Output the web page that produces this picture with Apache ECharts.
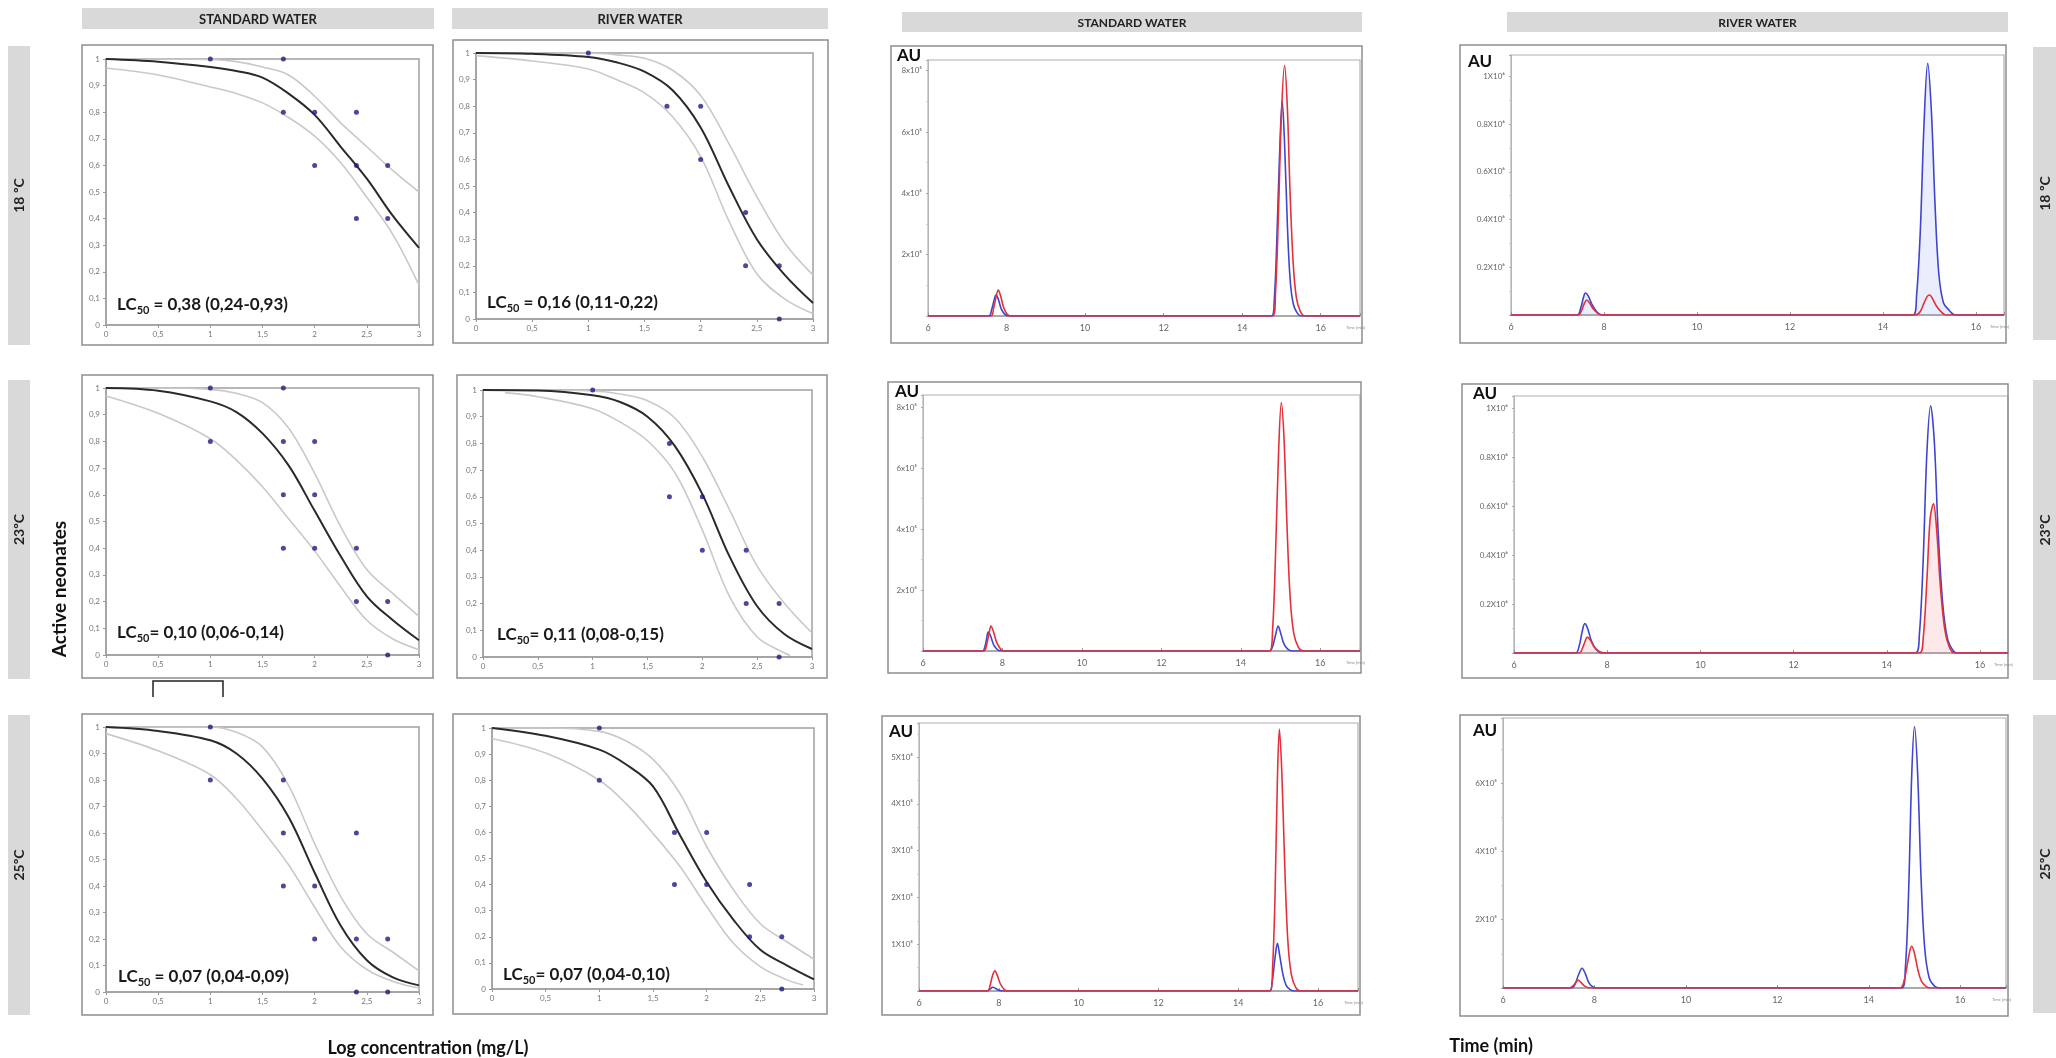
<!DOCTYPE html>
<html>
<head>
<meta charset="utf-8">
<script src="https://cdn.jsdelivr.net/npm/echarts@6/dist/echarts.min.js"></script>
<style>
html, body { margin: 0; padding: 0; background: #ffffff; }
#chart { width: 2056px; height: 1058px; }
</style>
</head>
<body>
<div id="chart"></div>
<script>
// ---------- Toxicity: fraction of active neonates vs log concentration ----------
const rowLabels = ['18 ºC', '23ºC', '25ºC'];
const colHeaders = ['STANDARD WATER', 'RIVER WATER', 'STANDARD WATER', 'RIVER WATER'];

// observed replicates [log concentration, active fraction]
const ptsStd18 = [[1,1],[1.7,1],[1.7,0.8],[2,0.8],[2,0.6],[2.4,0.8],[2.4,0.6],[2.4,0.4],[2.7,0.6],[2.7,0.4]];
const ptsRiv18 = [[1,1],[1.7,0.8],[2,0.8],[2,0.6],[2.4,0.4],[2.4,0.2],[2.7,0.2],[2.7,0]];
const ptsStd23 = [[1,1],[1,0.8],[1.7,1],[1.7,0.8],[1.7,0.6],[1.7,0.4],[2,0.8],[2,0.6],[2,0.4],[2.4,0.4],[2.4,0.2],[2.7,0.2],[2.7,0]];
const ptsRiv23 = [[1,1],[1.7,0.8],[1.7,0.6],[2,0.6],[2,0.4],[2.4,0.4],[2.4,0.2],[2.7,0.2],[2.7,0]];
const ptsStd25 = [[1,1],[1,0.8],[1.7,0.8],[1.7,0.6],[1.7,0.4],[2,0.4],[2,0.2],[2.4,0.6],[2.4,0.2],[2.4,0],[2.7,0.2],[2.7,0]];
const ptsRiv25 = [[1,1],[1,0.8],[1.7,0.6],[1.7,0.4],[2,0.6],[2,0.4],[2.4,0.4],[2.4,0.2],[2.7,0.2],[2.7,0]];

// fitted dose-response curves and 95% confidence bands
const fitStd18 = [[0,1],[0.5,0.99],[1,0.97],[1.25,0.955],[1.5,0.93],[1.75,0.87],[2,0.79],[2.25,0.67],[2.5,0.55],[2.75,0.41],[3,0.29]];
const upStd18  = [[0,1],[0.5,1],[1,0.998],[1.25,0.99],[1.5,0.97],[1.75,0.94],[2,0.86],[2.25,0.76],[2.5,0.67],[2.75,0.58],[3,0.5]];
const lowStd18 = [[0,0.966],[0.5,0.94],[1,0.895],[1.25,0.87],[1.5,0.835],[1.75,0.78],[2,0.71],[2.25,0.61],[2.5,0.48],[2.75,0.34],[3,0.15]];

const fitRiv18 = [[0,1],[0.5,0.997],[1,0.985],[1.25,0.965],[1.5,0.93],[1.75,0.86],[2,0.72],[2.25,0.5],[2.5,0.3],[2.75,0.165],[3,0.06]];
const upRiv18  = [[0,1],[0.5,1],[1,1],[1.25,0.993],[1.5,0.98],[1.75,0.935],[2,0.84],[2.25,0.66],[2.5,0.46],[2.75,0.285],[3,0.165]];
const lowRiv18 = [[0,0.99],[0.5,0.97],[1,0.94],[1.25,0.9],[1.5,0.85],[1.75,0.76],[2,0.61],[2.25,0.37],[2.5,0.17],[2.75,0.075],[3,0.02]];

const fitStd23 = [[0,1],[0.5,0.99],[1,0.95],[1.25,0.91],[1.5,0.83],[1.75,0.71],[2,0.54],[2.25,0.37],[2.5,0.22],[2.75,0.13],[3,0.055]];
const upStd23  = [[0,1],[0.5,1],[1,0.995],[1.25,0.98],[1.5,0.945],[1.75,0.85],[2,0.68],[2.25,0.48],[2.5,0.32],[2.75,0.23],[3,0.145]];
const lowStd23 = [[0,0.97],[0.5,0.905],[1,0.81],[1.25,0.73],[1.5,0.63],[1.75,0.51],[2,0.39],[2.25,0.255],[2.5,0.13],[2.75,0.06],[3,0.02]];

const fitRiv23 = [[0,1],[0.5,0.998],[1,0.98],[1.25,0.955],[1.5,0.9],[1.75,0.79],[2,0.61],[2.25,0.375],[2.5,0.19],[2.75,0.085],[3,0.03]];
const upRiv23  = [[0,1],[0.5,1],[1,0.996],[1.25,0.985],[1.5,0.96],[1.75,0.895],[2,0.75],[2.25,0.55],[2.5,0.34],[2.75,0.2],[3,0.09]];
const lowRiv23 = [[0.2,0.99],[0.5,0.975],[1,0.93],[1.25,0.88],[1.5,0.81],[1.75,0.69],[2,0.475],[2.25,0.225],[2.5,0.075],[2.75,0.015],[2.8,0.006]];

const fitStd25 = [[0,1],[0.5,0.985],[1,0.95],[1.25,0.9],[1.5,0.805],[1.75,0.66],[2,0.45],[2.25,0.25],[2.5,0.12],[2.75,0.055],[3,0.025]];
const upStd25  = [[0,1],[0.5,1],[1,1],[1.25,0.98],[1.5,0.925],[1.75,0.78],[2,0.56],[2.25,0.36],[2.5,0.22],[2.75,0.15],[3,0.08]];
const lowStd25 = [[0,0.975],[0.5,0.91],[1,0.82],[1.25,0.73],[1.5,0.61],[1.75,0.48],[2,0.32],[2.25,0.17],[2.5,0.085],[2.75,0.04],[3,0.015]];

const fitRiv25 = [[0,1],[0.5,0.97],[1,0.917],[1.25,0.86],[1.5,0.776],[1.75,0.59],[2,0.41],[2.25,0.265],[2.5,0.15],[2.75,0.09],[3,0.037]];
const upRiv25  = [[0,1],[0.5,1],[1,0.987],[1.25,0.95],[1.5,0.88],[1.75,0.75],[2,0.546],[2.25,0.38],[2.5,0.25],[2.75,0.18],[3,0.114]];
const lowRiv25 = [[0,0.96],[0.5,0.904],[1,0.8],[1.25,0.71],[1.5,0.596],[1.75,0.47],[2,0.316],[2.25,0.175],[2.5,0.086],[2.75,0.035],[2.9,0.015]];

const lc50Text = [
  ' = 0,38 (0,24-0,93)', ' = 0,16 (0,11-0,22)',
  '= 0,10 (0,06-0,14)', '= 0,11 (0,08-0,15)',
  ' = 0,07 (0,04-0,09)', '= 0,07 (0,04-0,10)'
];

// ---------- Chromatograms: absorbance vs retention time ----------
// [time (min), AU in units of the axis scale]
const chrStd18Blue = [[6,0],[7.55,0],[7.62,0.2],[7.68,0.5],[7.73,0.68],[7.79,0.55],[7.86,0.25],[7.95,0.06],[8.05,0],[14.75,0],[14.82,0.6],[14.88,2.4],[14.95,5.2],[15.02,7.0],[15.08,5.6],[15.15,3.0],[15.22,1.2],[15.3,0.4],[15.4,0.1],[15.5,0],[17,0]];
const chrStd18Red  = [[6,0],[7.6,0],[7.67,0.25],[7.73,0.6],[7.79,0.85],[7.85,0.65],[7.92,0.3],[8.0,0.08],[8.1,0],[14.78,0],[14.85,0.8],[14.92,3.2],[15.0,6.6],[15.08,8.18],[15.15,6.8],[15.22,4.0],[15.3,1.7],[15.38,0.6],[15.48,0.15],[15.6,0],[17,0]];

const chrRiv18Blue = [[6,0],[7.42,0],[7.5,0.03],[7.56,0.075],[7.6,0.092],[7.66,0.08],[7.74,0.045],[7.84,0.015],[7.95,0],[14.65,0],[14.72,0.08],[14.8,0.35],[14.88,0.8],[14.96,1.055],[15.04,0.85],[15.12,0.45],[15.2,0.17],[15.3,0.05],[15.42,0.02],[15.55,0],[16.6,0]];
const chrRiv18Red  = [[6,0],[7.45,0],[7.52,0.02],[7.58,0.05],[7.63,0.063],[7.69,0.05],[7.77,0.025],[7.88,0.005],[7.98,0],[14.7,0],[14.8,0.015],[14.88,0.05],[14.95,0.078],[15.0,0.084],[15.06,0.07],[15.14,0.04],[15.24,0.015],[15.35,0],[16.6,0]];

const chrStd23Blue = [[6,0],[7.5,0],[7.56,0.15],[7.6,0.4],[7.64,0.62],[7.7,0.5],[7.78,0.2],[7.88,0.04],[7.98,0],[14.72,0],[14.8,0.15],[14.87,0.5],[14.94,0.82],[15.0,0.6],[15.08,0.25],[15.18,0.06],[15.3,0],[17,0]];
const chrStd23Red  = [[6,0],[7.53,0],[7.6,0.2],[7.66,0.55],[7.71,0.82],[7.77,0.65],[7.85,0.3],[7.95,0.07],[8.05,0],[14.72,0],[14.8,0.7],[14.87,3.0],[14.95,6.5],[15.02,8.15],[15.09,6.9],[15.16,4.2],[15.24,1.8],[15.33,0.6],[15.45,0.12],[15.58,0],[17,0]];

const chrRiv23Blue = [[6,0],[7.32,0],[7.4,0.03],[7.46,0.085],[7.52,0.12],[7.58,0.1],[7.66,0.05],[7.76,0.015],[7.88,0],[14.62,0],[14.7,0.08],[14.78,0.38],[14.86,0.82],[14.94,1.01],[15.02,0.86],[15.1,0.5],[15.2,0.2],[15.3,0.06],[15.42,0.01],[15.5,0],[16.6,0]];
const chrRiv23Red  = [[6,0],[7.4,0],[7.47,0.02],[7.52,0.045],[7.57,0.065],[7.63,0.055],[7.72,0.025],[7.84,0.005],[7.95,0],[14.7,0],[14.78,0.06],[14.86,0.3],[14.93,0.55],[15.0,0.61],[15.07,0.5],[15.15,0.27],[15.24,0.1],[15.34,0.025],[15.45,0],[16.6,0]];

const chrStd25Blue = [[6,0],[7.7,0],[7.78,0.04],[7.85,0.08],[7.93,0.05],[8.02,0.01],[8.1,0],[14.78,0],[14.85,0.2],[14.92,0.7],[14.98,1.02],[15.04,0.75],[15.12,0.35],[15.2,0.12],[15.3,0.03],[15.4,0],[17,0]];
const chrStd25Red  = [[6,0],[7.72,0],[7.78,0.12],[7.84,0.32],[7.9,0.43],[7.96,0.34],[8.04,0.15],[8.14,0.03],[8.22,0],[14.8,0],[14.86,0.5],[14.92,2.0],[14.98,4.5],[15.03,5.6],[15.09,4.7],[15.16,2.8],[15.24,1.1],[15.33,0.35],[15.45,0.06],[15.58,0],[17,0]];

const chrRiv25Blue = [[6,0],[7.5,0],[7.58,0.12],[7.65,0.38],[7.73,0.58],[7.8,0.42],[7.88,0.15],[7.97,0.03],[8.05,0],[14.72,0],[14.8,0.6],[14.87,2.8],[14.94,6.3],[15.0,7.65],[15.07,6.2],[15.14,3.3],[15.22,1.2],[15.32,0.3],[15.45,0.04],[15.55,0],[17,0]];
const chrRiv25Red  = [[6,0],[7.45,0],[7.53,0.06],[7.6,0.18],[7.64,0.23],[7.7,0.17],[7.78,0.06],[7.86,0.01],[7.95,0],[14.68,0],[14.76,0.15],[14.83,0.6],[14.9,1.1],[14.94,1.22],[15.0,1.0],[15.07,0.55],[15.15,0.2],[15.25,0.05],[15.35,0],[17,0]];

// y tick values and their labels for each chromatogram
const yTickVals = [
  [2,4,6,8], [0.2,0.4,0.6,0.8,1], [2,4,6,8], [0.2,0.4,0.6,0.8,1], [1,2,3,4,5], [2,4,6]
];
const yTickText = [
  ['2x10⁵','4x10⁵','6x10⁵','8x10⁵'],
  ['0.2X10⁶','0.4X10⁶','0.6X10⁶','0.8X10⁶','1X10⁶'],
  ['2x10⁵','4x10⁵','6x10⁵','8x10⁵'],
  ['0.2X10⁶','0.4X10⁶','0.6X10⁶','0.8X10⁶','1X10⁶'],
  ['1X10⁵','2X10⁵','3X10⁵','4X10⁵','5X10⁵'],
  ['2X10⁵','4X10⁵','6X10⁵']
];

// ---------- layout (pixels) ----------
const doseLayout = [
  { box: [82, 45, 351, 300],  grid: [106, 59, 313, 266],  text: [117, 305] },
  { box: [453, 40, 375, 303], grid: [476, 53, 337, 266],  text: [487, 303] },
  { box: [82, 375, 351, 303], grid: [106, 388, 313, 267], text: [117, 633] },
  { box: [457, 375, 370, 303],grid: [483, 390, 329, 267], text: [497, 635] },
  { box: [82, 714, 351, 301], grid: [106, 727, 313, 265], text: [118, 977] },
  { box: [453, 714, 374, 300],grid: [492, 728, 322, 261], text: [503, 975] }
];
const chromLayout = [
  { box: [891, 46, 471, 297],   grid: [928, 60, 432, 256],   au: [897, 56],   xMax: 17,   yMax: 8.35, yStep: 2 },
  { box: [1460, 45, 546, 298],  grid: [1511, 55, 493, 260],  au: [1468, 62],  xMax: 16.6, yMax: 1.09, yStep: 0.2 },
  { box: [888, 382, 473, 291],  grid: [923, 395, 437, 256],  au: [895, 392],  xMax: 17,   yMax: 8.4,  yStep: 2 },
  { box: [1462, 384, 546, 294], grid: [1514, 396, 494, 257], au: [1473, 394], xMax: 16.6, yMax: 1.05, yStep: 0.2 },
  { box: [882, 716, 478, 299],  grid: [919, 723, 439, 268],  au: [889, 732],  xMax: 17,   yMax: 5.73, yStep: 1 },
  { box: [1460, 715, 548, 301], grid: [1503, 718, 503, 270], au: [1473, 731], xMax: 17,   yMax: 7.9,  yStep: 2 }
];

const doseSets = [
  [ptsStd18, fitStd18, upStd18, lowStd18],
  [ptsRiv18, fitRiv18, upRiv18, lowRiv18],
  [ptsStd23, fitStd23, upStd23, lowStd23],
  [ptsRiv23, fitRiv23, upRiv23, lowRiv23],
  [ptsStd25, fitStd25, upStd25, lowStd25],
  [ptsRiv25, fitRiv25, upRiv25, lowRiv25]
];
const chromSets = [
  [chrStd18Blue, chrStd18Red],
  [chrRiv18Blue, chrRiv18Red],
  [chrStd23Blue, chrStd23Red],
  [chrRiv23Blue, chrRiv23Red],
  [chrStd25Blue, chrStd25Red],
  [chrRiv25Blue, chrRiv25Red]
];

const FONT = 'Lato, "Open Sans", sans-serif';
const BLUE = '#3f45cf';
const RED = '#e4303a';

const grids = [], xAxes = [], yAxes = [], series = [], graphics = [];

function decComma(v) {
  const r = Math.round(v * 10) / 10;
  return String(r).replace('.', ',');
}

// dose-response panels
doseLayout.forEach((L, i) => {
  const [gx, gy, gw, gh] = L.grid;
  grids.push({ left: gx, top: gy, width: gw, height: gh, show: true,
    borderColor: '#a0a0a0', borderWidth: 1.5, backgroundColor: 'transparent' });
  xAxes.push({ type: 'value', gridIndex: i, min: 0, max: 3, interval: 0.5,
    axisLine: { show: true, onZero: false, lineStyle: { color: '#a0a0a0', width: 1.5 } },
    axisTick: { show: true, length: 3, lineStyle: { color: '#999' } },
    axisLabel: { fontSize: 8, color: '#777', fontFamily: FONT, margin: 5, formatter: decComma },
    splitLine: { show: false } });
  yAxes.push({ type: 'value', gridIndex: i, min: 0, max: 1, interval: 0.1,
    axisLine: { show: true, onZero: false, lineStyle: { color: '#a0a0a0', width: 1.5 } },
    axisTick: { show: true, length: 3, lineStyle: { color: '#999' } },
    axisLabel: { fontSize: 8, color: '#777', fontFamily: FONT, margin: 6, formatter: decComma },
    splitLine: { show: false } });
  const [pts, fit, up, low] = doseSets[i];
  [up, low].forEach(d => series.push({ type: 'line', xAxisIndex: i, yAxisIndex: i, data: d,
    smooth: 0.35, showSymbol: false, silent: true,
    lineStyle: { color: '#c9c9c9', width: 1.6 }, z: 2 }));
  series.push({ type: 'line', xAxisIndex: i, yAxisIndex: i, data: fit, smooth: 0.35,
    showSymbol: false, silent: true, lineStyle: { color: '#2a2a2a', width: 2 }, z: 3 });
  series.push({ type: 'scatter', xAxisIndex: i, yAxisIndex: i, data: pts, symbolSize: 5,
    itemStyle: { color: '#1b1b82' }, silent: true, z: 4 });

  const [bx, by, bw, bh] = L.box;
  graphics.push({ type: 'rect', silent: true, shape: { x: bx, y: by, width: bw, height: bh },
    style: { fill: 'none', stroke: '#8e8e8e', lineWidth: 1.5 } });
  graphics.push({ type: 'text', silent: true, x: L.text[0], y: L.text[1], z: 10,
    style: {
      text: '{m|LC}{s|50}{m|' + lc50Text[i] + '}',
      align: 'left', verticalAlign: 'middle',
      rich: {
        m: { fontSize: 17, fontWeight: 'bold', fontFamily: FONT, fill: '#1a1a1a', lineHeight: 22, verticalAlign: 'middle' },
        s: { fontSize: 11, fontWeight: 'bold', fontFamily: FONT, fill: '#1a1a1a', lineHeight: 11, verticalAlign: 'bottom' }
      }
    } });
});

// chromatogram panels
chromLayout.forEach((L, k) => {
  const i = k + 6;
  const [gx, gy, gw, gh] = L.grid;
  grids.push({ left: gx, top: gy, width: gw, height: gh, show: true,
    borderColor: '#b0b0b0', borderWidth: 1.2, backgroundColor: 'transparent' });
  xAxes.push({ type: 'value', gridIndex: i, min: 6, max: L.xMax, interval: 2,
    name: 'Time (min)', nameLocation: 'end', nameGap: -14,
    nameTextStyle: { fontSize: 4, color: '#888', verticalAlign: 'top', padding: [10, 0, 0, 0] },
    axisLine: { show: true, onZero: false, lineStyle: { color: '#9a9a9a', width: 1.5 } },
    axisTick: { show: true, length: 3, inside: true, lineStyle: { color: '#999' } },
    minorTick: { show: false },
    axisLabel: { fontSize: 9, color: '#666', fontFamily: FONT, margin: 8,
      formatter: v => (Math.abs(v - Math.round(v)) < 1e-6 && Math.round(v) % 2 === 0 ? String(Math.round(v)) : '') },
    splitLine: { show: false } });
  const vals = yTickVals[k], texts = yTickText[k];
  yAxes.push({ type: 'value', gridIndex: i, min: 0, max: L.yMax, interval: L.yStep,
    axisLine: { show: true, onZero: false, lineStyle: { color: '#b5b5b5', width: 1 } },
    axisTick: { show: true, length: 2, lineStyle: { color: '#aaa' } },
    minorTick: { show: true, splitNumber: 2, length: 2, lineStyle: { color: '#ccc' } },
    axisLabel: { fontSize: 8, color: '#666', fontFamily: FONT, margin: 6,
      formatter: v => { const j = vals.findIndex(t => Math.abs(t - v) < 1e-6); return j >= 0 ? texts[j] : ''; } },
    splitLine: { show: false } });
  const [blue, red] = chromSets[k];
  const blueFill = (k === 1) ? { color: 'rgba(120,135,235,0.22)' } : undefined;
  const redFill = (k === 3) ? { color: 'rgba(240,110,120,0.22)' } : undefined;
  const blueS = { type: 'line', xAxisIndex: i, yAxisIndex: i, data: blue, smooth: 0.35,
    showSymbol: false, silent: true, lineStyle: { color: BLUE, width: 1.6 }, areaStyle: blueFill, z: 3 };
  const redS = { type: 'line', xAxisIndex: i, yAxisIndex: i, data: red, smooth: 0.35,
    showSymbol: false, silent: true, lineStyle: { color: RED, width: 1.6 }, areaStyle: redFill, z: 3 };
  if (k === 5) { series.push(blueS, redS); } else { series.push(blueS, redS); }

  const [bx, by, bw, bh] = L.box;
  graphics.push({ type: 'rect', silent: true, shape: { x: bx, y: by, width: bw, height: bh },
    style: { fill: 'none', stroke: '#8e8e8e', lineWidth: 1.5 } });
  graphics.push({ type: 'text', silent: true, x: L.au[0], y: L.au[1],
    style: { text: 'AU', fontSize: 17, fontWeight: 'bold', fontFamily: FONT, fill: '#111',
      align: 'left', verticalAlign: 'middle' } });
});

// column headers
const headerBoxes = [[82, 8, 352, 21], [452, 8, 376, 21], [902, 12, 460, 20], [1507, 12, 501, 20]];
headerBoxes.forEach((b, j) => {
  graphics.push({ type: 'rect', silent: true, shape: { x: b[0], y: b[1], width: b[2], height: b[3] },
    style: { fill: '#d9d9d9' } });
  graphics.push({ type: 'text', silent: true, x: b[0] + b[2] / 2, y: b[1] + b[3] / 2 + 1,
    style: { text: colHeaders[j], fontSize: j < 2 ? 13 : 12, fontWeight: 'bold', fontFamily: FONT,
      fill: '#222', align: 'center', verticalAlign: 'middle' } });
});

// row label bars, left and right
const rowBarsY = [[46, 299], [380, 299], [715, 300]];
const rowBarsYRight = [[47, 293], [380, 300], [715, 298]];
rowBarsY.forEach((r, j) => {
  graphics.push({ type: 'rect', silent: true, shape: { x: 8, y: r[0], width: 22, height: r[1] },
    style: { fill: '#d9d9d9' } });
  graphics.push({ type: 'text', silent: true, x: 19, y: r[0] + r[1] / 2, rotation: Math.PI / 2,
    style: { text: rowLabels[j], fontSize: 14, fontWeight: 'bold', fontFamily: FONT, fill: '#222',
      align: 'center', verticalAlign: 'middle' } });
});
rowBarsYRight.forEach((r, j) => {
  graphics.push({ type: 'rect', silent: true, shape: { x: 2033, y: r[0], width: 23, height: r[1] },
    style: { fill: '#d9d9d9' } });
  graphics.push({ type: 'text', silent: true, x: 2045, y: r[0] + r[1] / 2, rotation: Math.PI / 2,
    style: { text: rowLabels[j], fontSize: 14, fontWeight: 'bold', fontFamily: FONT, fill: '#222',
      align: 'center', verticalAlign: 'middle' } });
});

// axis titles
graphics.push({ type: 'text', silent: true, x: 60, y: 589, rotation: Math.PI / 2,
  style: { text: 'Active neonates', fontSize: 19, fontWeight: 'bold', fontFamily: FONT, fill: '#111',
    align: 'center', verticalAlign: 'middle' } });
graphics.push({ type: 'text', silent: true, x: 428, y: 1048,
  style: { text: 'Log concentration (mg/L)', fontSize: 18, fontWeight: 'bold', fontFamily: FONT, fill: '#111',
    align: 'center', verticalAlign: 'middle' } });
graphics.push({ type: 'text', silent: true, x: 1491, y: 1046,
  style: { text: 'Time (min)', fontSize: 18, fontWeight: 'bold', fontFamily: FONT, fill: '#111',
    align: 'center', verticalAlign: 'middle' } });

// bracket below the 23 ºC standard-water panel
graphics.push({ type: 'polyline', silent: true,
  shape: { points: [[153, 697], [153, 681], [223, 681], [223, 697]] },
  style: { fill: 'none', stroke: '#222', lineWidth: 1.5 } });

const chart = echarts.init(document.getElementById('chart'), null, { renderer: 'canvas' });
chart.setOption({
  backgroundColor: '#ffffff',
  animation: false,
  grid: grids,
  xAxis: xAxes,
  yAxis: yAxes,
  series: series,
  graphic: { elements: graphics }
});
</script>
</body>
</html>
